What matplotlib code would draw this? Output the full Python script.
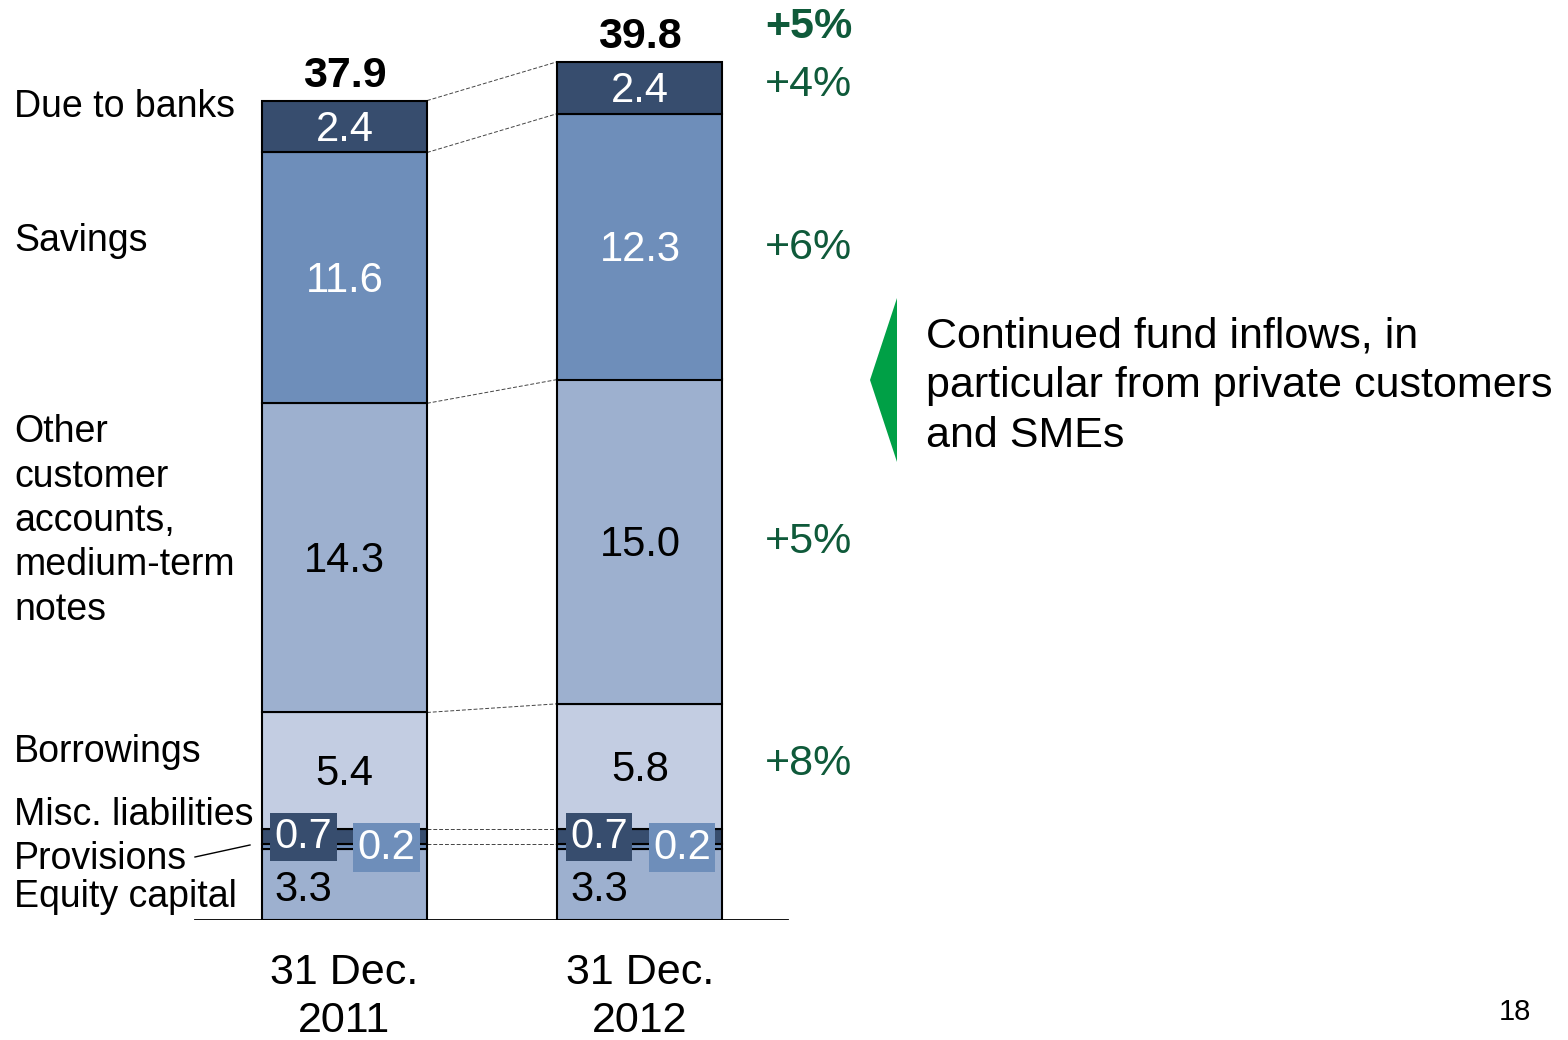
import numpy as np
import matplotlib
matplotlib.use("Agg")
import matplotlib.pyplot as plt
from matplotlib.patches import Polygon

plt.rcParams['font.family'] = ['Liberation Sans', 'DejaVu Sans']

# data (EUR bn), stacked bottom -> top
years = ["31 Dec.\n2011", "31 Dec.\n2012"]
segments = ["Equity capital", "Provisions", "Misc. liabilities", "Borrowings",
            "Other customer accounts, medium-term notes", "Savings", "Due to banks"]
vals_2011 = [3.3, 0.2, 0.7, 5.4, 14.3, 11.6, 2.4]
vals_2012 = [3.3, 0.2, 0.7, 5.8, 15.0, 12.3, 2.4]
totals = ["37.9", "39.8"]
changes = ["+4%", "+6%", "+5%", "+8%"]   # due to banks, savings, other, borrowings
total_change = "+5%"

colors = ["#9DB0CF", "#6E8EBA", "#374D6E", "#C3CDE2", "#9DB0CF", "#6E8EBA", "#374D6E"]
txt_colors = ["black", "white", "white", "black", "black", "white", "white"]
green = "#0F5A3A"

W, H = 1568, 1040
scale = 21.62          # px per unit
fig = plt.figure(figsize=(W / 100, H / 100), dpi=100)
ax = fig.add_axes([0, 120 / H, 1, 920 / H])
ax.set_xlim(0, W)
ax.set_ylim(0, 920 / scale)
ax.axis("off")


def fy(py):
    return 1 - py / H


centers = [344.5, 640]
bw = 165
data = np.array([vals_2011, vals_2012])
cums = np.cumsum(data, axis=1)
bottoms = cums - data

for i, xc in enumerate(centers):
    ax.bar(xc, data[i], width=bw, bottom=bottoms[i], color=colors,
           edgecolor="black", linewidth=1.5, zorder=2)
    # value labels
    for j in range(len(segments)):
        yc = bottoms[i, j] + data[i, j] / 2
        v = "%.1f" % data[i, j]
        if j == 0:
            ax.text(xc - 41, yc - 0.25, v, ha="center", va="center", fontsize=30,
                    color="black", zorder=4)
        elif j == 1:
            ax.text(xc + 42, yc - 0.05, v, ha="center", va="center", fontsize=30,
                    color="white", zorder=4,
                    bbox=dict(boxstyle="square,pad=0.1", fc=colors[1], ec="none"))
        elif j == 2:
            ax.text(xc - 41, yc, v, ha="center", va="center", fontsize=30,
                    color="white", zorder=4,
                    bbox=dict(boxstyle="square,pad=0.1", fc=colors[2], ec="none"))
        else:
            ax.text(xc, yc - 0.15, v, ha="center", va="center", fontsize=30,
                    color=txt_colors[j], zorder=3)
    ax.annotate(totals[i], (xc, cums[i, -1]), xytext=(0, 10),
                textcoords="offset points", ha="center", va="baseline",
                fontsize=31, fontweight="bold")
    fig.text(xc / W, fy(997), years[i], ha="center", va="center",
             fontsize=31, linespacing=1.29)

# dashed connectors between bars
x0 = centers[0] + bw / 2
x1 = centers[1] - bw / 2
for j in range(1, len(segments)):
    ax.plot([x0, x1], [cums[0, j], cums[1, j]], ls=(0, (4, 2)), lw=0.7,
            color="#444444", zorder=1)

# baseline
ax.plot([195, 788], [0, 0], color="black", lw=1.3, zorder=3)

# left labels
left = [("Due to banks", 107), ("Savings", 241),
        ("Other\ncustomer\naccounts,\nmedium-term\nnotes", 521),
        ("Borrowings", 752), ("Misc. liabilities", 815),
        ("Provisions", 859), ("Equity capital", 897)]
for s, py in left:
    fig.text(14 / W, fy(py), s, ha="left", va="center", fontsize=27,
             linespacing=1.30)
fig.add_artist(plt.Line2D([195 / W, 250 / W], [fy(857), fy(845)],
                          color="black", lw=1))

# growth percentages
fig.text(765 / W, fy(27), total_change, ha="left", va="center",
         fontsize=31, fontweight="bold", color=green)
for s, py in zip(changes, [85, 248, 542, 764]):
    fig.text(765 / W, fy(py), s, ha="left", va="center", fontsize=31,
             color=green)

# green arrow and comment
tri = Polygon([[897 / W, fy(298)], [870 / W, fy(380)], [897 / W, fy(462)]],
              closed=True, transform=fig.transFigure, color="#00A046", ec="none")
fig.add_artist(tri)
fig.text(926 / W, fy(386),
         "Continued fund inflows, in\nparticular from private customers\nand SMEs",
         ha="left", va="center", fontsize=31, linespacing=1.31)

fig.text(1515 / W, fy(1012), "18", ha="center", va="center", fontsize=21)

fig.savefig("out.png", dpi=100)
